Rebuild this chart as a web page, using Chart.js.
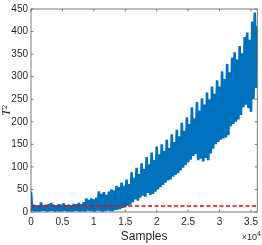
<!DOCTYPE html>
<html><head><meta charset="utf-8">
<script src="https://cdn.jsdelivr.net/npm/chart.js@4.4.1/dist/chart.umd.min.js"></script>
<style>html,body{margin:0;padding:0;background:#fff;}canvas{display:block;}</style>
</head><body>
<canvas id="c" width="262" height="245"></canvas>
<script>
// ---- data ----
const xTicks = [0, 5000, 10000, 15000, 20000, 25000, 30000, 35000];
const yTicks = [0, 50, 100, 150, 200, 250, 300, 350, 400, 450];
const xLabel = 'Samples';
const yLabel = 'T\u00B2';
const threshold = 13.5;
const sampleStep = 400; // spacing of peak samples
// peak (upper) values at samples 0, 400, 800, ...
const peakValues = [45,16,15,14,21,15,16,17,20,16, 15,17,16,19,15,16,14,18,17,20,
  17,22,30,27,30,28,32,46,40,44, 38,45,50,48,58,55,65,58,72,62,
  88,76,98,84,108,96,122,106,132,115, 145,128,150,135,160,142,172,155,182,168,
  198,180,210,195,232,208,244,225,252,238, 265,250,278,262,292,278,312,295,328,310,
  342,354,338,368,352,388,398,382,422,442, 412];
// trough (lower) values at samples 200, 600, 1000, ...
const troughValues = [3,1,2,1,3,2,1,2,3,1, 2,1,2,3,1,2,1,3,2,1, 2,1,3,2,2,1,3,2,1,2, 3,2,2,
  4,5,6,9,10,14,16,22,28,25,32,36,34,42,38,40,45,50,55,60,65,70,72,78,82,86,92,98,104,110,116,124,128,
  115,118,112,120,115,130,140,150,155,160,163,165,170,190,195,200,205,215,232,238,230,222,250,275];

// build series table
const series = [];
for (let i = 0; i < peakValues.length; i++) {
  series.push({x: i * sampleStep, y: peakValues[i]});
  if (i < troughValues.length) series.push({x: i * sampleStep + sampleStep / 2, y: troughValues[i]});
}
const xMin = 0, xMax = 36000, yMin = 0, yMax = 450;

const FONT = "'Liberation Sans', Arial, Helvetica, sans-serif";
const TXT = '#262626';

const boxPlugin = {
  id: 'box',
  afterDraw(chart) {
    const {ctx, chartArea: a, scales} = chart;
    ctx.save();
    ctx.strokeStyle = '#5a5a5a';
    ctx.lineWidth = 0.8;
    ctx.strokeRect(a.left, a.top, a.right - a.left, a.bottom - a.top);
    const tl = 2.5;
    ctx.beginPath();
    xTicks.forEach(v => {
      const px = scales.x.getPixelForValue(v);
      ctx.moveTo(px, a.bottom); ctx.lineTo(px, a.bottom - tl);
      ctx.moveTo(px, a.top); ctx.lineTo(px, a.top + tl);
    });
    yTicks.forEach(v => {
      const py = scales.y.getPixelForValue(v);
      ctx.moveTo(a.left, py); ctx.lineTo(a.left + tl, py);
      ctx.moveTo(a.right, py); ctx.lineTo(a.right - tl, py);
    });
    ctx.stroke();
    // exponent label
    ctx.fillStyle = TXT;
    ctx.textBaseline = 'middle';
    ctx.textAlign = 'left';
    ctx.font = '9px ' + FONT;
    const base = '\u00D710';
    const w = ctx.measureText(base).width;
    ctx.font = '7px ' + FONT;
    const w2 = ctx.measureText('4').width;
    const x0 = 261 - w - w2;
    ctx.font = '9px ' + FONT;
    ctx.fillText(base, x0, 238);
    ctx.font = '7px ' + FONT;
    ctx.fillText('4', x0 + w, 234);
    ctx.restore();
  }
};

new Chart(document.getElementById('c'), {
  type: 'line',
  data: {
    datasets: [
      {
        data: [{x: xMin, y: threshold}, {x: xMax, y: threshold}],
        borderColor: '#FF0000', borderWidth: 1.5, borderDash: [4, 2.5],
        pointRadius: 0, order: 0
      },
      {
        data: series,
        borderColor: '#0072BD', borderWidth: 2.6, borderJoinStyle: 'bevel',
        pointRadius: 0, tension: 0, order: 1
      }
    ]
  },
  options: {
    responsive: false, animation: false, devicePixelRatio: 1,
    layout: {padding: {top: 5, right: 2, left: 0, bottom: 0}},
    plugins: {legend: {display: false}, tooltip: {enabled: false}},
    scales: {
      x: {
        type: 'linear', min: xMin, max: xMax,
        afterBuildTicks: s => { s.ticks = xTicks.map(v => ({value: v})); },
        afterFit: s => { s.height = 33; },
        grid: {display: false, drawTicks: false},
        border: {display: false},
        ticks: {font: {size: 10, family: FONT}, color: TXT, padding: 4, maxRotation: 0,
          callback: v => (v === 0 ? '0' : String(v / 1e4))},
        title: {display: true, text: xLabel, color: TXT, font: {size: 12, family: FONT}, padding: {top: 0, bottom: 1}}
      },
      y: {
        type: 'linear', min: yMin, max: yMax,
        afterBuildTicks: s => { s.ticks = yTicks.map(v => ({value: v})); },
        afterFit: s => { s.width = 31; },
        grid: {display: false, drawTicks: false},
        border: {display: false},
        ticks: {font: {size: 10, family: FONT}, color: TXT, padding: 3},
        title: {display: true, text: yLabel, color: TXT, font: {size: 12, family: "'Liberation Serif', 'Times New Roman', serif", style: 'italic'}, padding: 0}
      }
    }
  },
  plugins: [boxPlugin]
});
</script>
</body></html>
